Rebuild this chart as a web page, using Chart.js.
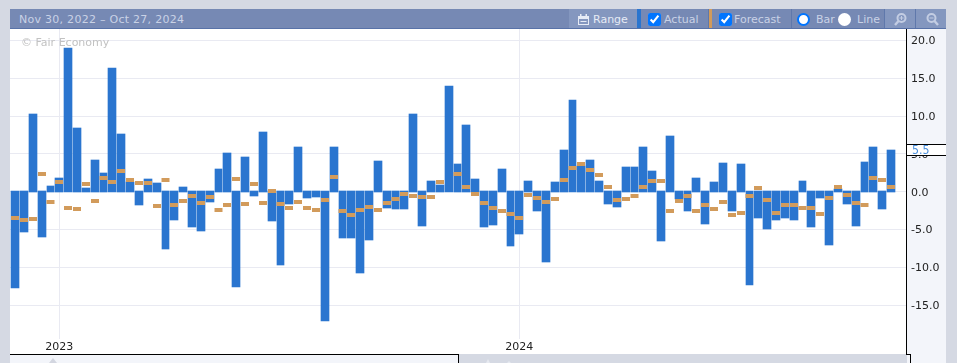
<!DOCTYPE html>
<html><head><meta charset="utf-8">
<script src="https://cdn.jsdelivr.net/npm/chart.js@4"></script>
<style>
html,body{margin:0;padding:0;width:957px;height:363px;overflow:hidden;background:#d5d9e3;font-family:"DejaVu Sans",sans-serif;}
.a{position:absolute;}
#plot{left:10px;top:29px;width:896px;height:325px;background:#fff;}
#axisbg{left:907px;top:29px;width:39px;height:334px;background:#f3f5fa;}
#navl{left:10px;top:355px;width:448px;height:8px;background:#f3f5fa;}
canvas{position:absolute;left:0;top:0;}
.k{background:#000;}
#head{left:10px;top:9px;width:936px;height:19px;background:#7689b4;border-bottom:1px solid #5872a8;}
.t{position:absolute;font-size:11px;line-height:13px;color:#c9d2e6;white-space:nowrap;top:13px;}
.btn{position:absolute;top:9px;height:19px;background:#8497bf;}
.sep{position:absolute;top:9px;height:19px;width:1px;background:#5f78ab;}
input{position:absolute;margin:0;width:13px;height:13px;top:13px;accent-color:#0075ff;}
.r{position:absolute;width:13px;height:13px;border-radius:50%;top:13px;box-sizing:border-box;background:#fff;}
#last{left:907px;top:145px;width:39px;height:10px;background:#fff;color:#4a8fdc;font-size:11px;line-height:10px;}
#last span{position:absolute;left:5px;top:0;transform:scaleY(1.18);transform-origin:50% 50%;}
#cr{left:21px;top:36px;font-size:11px;line-height:13px;color:#c2c2c2;white-space:nowrap;}
</style></head>
<body>
<div class="a" id="plot"></div>
<div class="a" id="axisbg"></div>
<div class="a" id="navl"></div>
<canvas id="c" width="957" height="363"></canvas>
<div class="a" id="cr">© Fair Economy</div>

<div class="a k" style="left:906px;top:29px;width:1px;height:326px"></div>
<div class="a k" style="left:10px;top:354px;width:448px;height:1px"></div>
<div class="a k" style="left:458px;top:354px;width:1px;height:9px"></div>
<div class="a k" style="left:906px;top:354px;width:5px;height:1px"></div>
<div class="a k" style="left:910px;top:354px;width:1px;height:9px"></div>
<div class="a" style="left:911px;top:355px;width:35px;height:8px;background:#f3f5fa"></div>
<svg class="a" style="left:49px;top:358px" width="8" height="5"><path d="M4 0L8 5H0Z" fill="#d3d6e0"/></svg>
<svg class="a" style="left:486px;top:359px" width="4" height="4"><path d="M2 0L4 4H0Z" fill="#e6e9f0"/></svg>
<svg class="a" style="left:507px;top:361px" width="4" height="2"><path d="M2 0L4 2H0Z" fill="#e6e9f0"/></svg>

<div class="a" id="last"><span id="lastT"></span></div>
<div class="a k" style="left:906px;top:144px;width:40px;height:1px"></div>
<div class="a k" style="left:906px;top:155px;width:40px;height:1px"></div>

<div class="a" id="head"></div>
<div class="t" style="left:19px;letter-spacing:0.27px">Nov 30, 2022 – Oct 27, 2024</div>
<div class="btn" style="left:569px;width:68px"></div>
<svg class="a" style="left:578px;top:14px" width="11" height="11" viewBox="0 0 11 11"><rect x="0.5" y="2.5" width="10" height="8" fill="none" stroke="#e6ebf5"/><rect x="0.5" y="2.5" width="10" height="2.5" fill="#e6ebf5"/><rect x="2" y="0" width="1.5" height="3" fill="#e6ebf5"/><rect x="7.5" y="0" width="1.5" height="3" fill="#e6ebf5"/><rect x="2.5" y="7" width="6" height="1" fill="#e6ebf5"/></svg>
<div class="t" style="left:593px;color:#e6ebf5">Range</div>
<div class="a" style="left:637px;top:9px;width:4px;height:19px;background:#2a75cf"></div>
<input type="checkbox" checked style="left:648px">
<div class="t" style="left:664px">Actual</div>
<div class="sep" style="left:708px"></div>
<div class="a" style="left:709px;top:9px;width:3px;height:19px;background:#d29b5b"></div>
<input type="checkbox" checked style="left:719px">
<div class="t" style="left:734px">Forecast</div>
<div class="sep" style="left:791px"></div>
<div class="r" style="left:797px;border:2.5px solid #0075ff"></div>
<div class="t" style="left:816px">Bar</div>
<div class="r" style="left:838px"></div>
<div class="t" style="left:857px">Line</div>
<div class="btn" style="left:884px;width:62px"></div>
<div class="sep" style="left:884px"></div>
<div class="sep" style="left:915px"></div>
<svg class="a" style="left:894px;top:13px" width="13" height="13" viewBox="0 0 13 13"><circle cx="7.5" cy="5" r="4" fill="none" stroke="#c3cde3" stroke-width="2"/><line x1="4.5" y1="8" x2="1" y2="12" stroke="#c3cde3" stroke-width="2.4"/><path d="M5.5 5h4M7.5 3v4" stroke="#c3cde3"/></svg>
<svg class="a" style="left:926px;top:13px" width="13" height="13" viewBox="0 0 13 13"><circle cx="5.5" cy="5" r="4" fill="none" stroke="#c3cde3" stroke-width="2"/><line x1="8.5" y1="8" x2="12" y2="12" stroke="#c3cde3" stroke-width="2.4"/><path d="M3.5 5h4" stroke="#c3cde3"/></svg>

<script>
const actual = [
-12.74,-5.33,10.28,-5.99,0.75,1.81,19.01,8.43,0.49,4.19,
2.47,16.36,7.63,1.28,-1.76,1.68,1.15,-7.58,-3.74,0.62,
-4.67,-5.20,-1.36,3.00,5.12,-12.60,4.59,-0.57,7.90,-3.88,
-9.69,-1.63,5.91,-0.83,-0.70,-17.10,5.91,-6.12,-6.12,-10.75,
-6.39,4.06,-2.16,-2.29,-2.29,10.28,-4.54,1.42,0.89,13.98,
3.66,8.82,1.68,-4.67,-4.40,3.00,-7.18,-5.59,1.42,-2.55,
-9.30,1.28,5.52,12.13,3.40,4.19,1.42,-1.63,-2.02,3.27,
3.27,5.91,2.74,-6.52,7.37,-0.97,-2.55,1.81,-4.27,1.28,
3.80,-2.55,3.66,-12.34,-3.48,-4.93,-3.74,-3.48,-3.74,1.42,
-4.67,-0.83,-7.05,0.36,-1.63,-4.54,3.93,5.91,-2.29,5.52];
const forecast = [
-3.48,-3.74,-3.61,2.34,-1.36,1.28,-2.16,-2.29,1.02,-1.23,
1.81,1.28,2.74,1.55,1.15,1.15,-1.89,1.55,-1.76,-1.23,
-0.57,-1.49,-0.70,-2.42,-1.76,1.68,-1.63,1.02,-1.49,0.09,
-1.63,-2.16,-1.36,-2.16,-2.42,-1.10,1.94,-2.55,-3.08,-2.42,
-2.02,-2.42,-1.49,-0.97,-0.30,-0.57,-0.70,-0.70,1.28,null,
2.34,0.62,-0.30,-1.49,-2.16,-2.55,-2.95,-3.48,-0.44,-0.83,
-1.36,-0.97,1.55,3.13,3.66,2.87,2.21,0.62,-1.10,-0.97,
-0.57,0.62,1.42,1.42,-2.55,-1.23,-0.57,-2.55,-1.76,-2.29,
-1.36,-3.08,-2.82,-0.57,0.49,-1.10,-2.82,-1.76,-1.76,-2.16,
-2.16,-2.95,-0.83,0.62,-0.44,-1.49,-1.76,1.81,1.55,0.62];
const yearTicks = [5, 57];
const yearLabels = ["2023", "2024"];
const yTicks = [20, 15, 10, 5, 0, -5, -10, -15];

document.getElementById('lastT').textContent = actual[actual.length - 1].toFixed(1);

/* Snap the library's computed geometry to whole device pixels, like the crisp original. */
const pixelSnap = {
  id: 'pixelSnap',
  afterDatasetsUpdate(chart) {
    chart.getSortedVisibleDatasetMetas().forEach(meta => {
      meta.data.forEach(el => {
        if (el.skip) return;
        const right = Math.floor(el.x + 4.49);
        const left = Math.floor(el.x - 4.358) + 1;
        el.x = (left + right) / 2;
        el.y = Math.round(el.y);
        if (meta.type === 'bar') {
          el.width = right - left;
          el.base = Math.round(el.base);
        }
      });
    });
  }
};

new Chart(document.getElementById('c'), {
  plugins: [pixelSnap],
  data: {
    datasets: [
      { type: 'line', label: 'Forecast', order: 0, showLine: false,
        data: forecast.map((v, i) => ({ x: i, y: v })),
        pointStyle: 'line', pointRadius: 4, pointHoverRadius: 4,
        pointBorderWidth: 4, pointBorderColor: '#d29b5b', pointBackgroundColor: '#d29b5b' },
      { type: 'bar', label: 'Actual', order: 1,
        data: actual.map((v, i) => ({ x: i, y: v >= 0 ? [-0.04, v] : [0.09, v] })),
        backgroundColor: '#2a75cf', borderWidth: 0, barThickness: 8 }
    ]
  },
  options: {
    responsive: false, animation: false,
    layout: { padding: { left: 10, top: 29, right: 11, bottom: 9 } },
    plugins: { legend: { display: false }, tooltip: { enabled: false } },
    scales: {
      x: {
        type: 'linear', min: -0.565, max: 100.70, offset: false,
        afterBuildTicks: s => { s.ticks = yearTicks.map(v => ({ value: v })); },
        afterFit: s => { s.height = 15; },
        grid: { color: '#e9eaf2', drawTicks: false, offset: false },
        border: { display: false },
        ticks: { autoSkip: false, maxRotation: 0, padding: 2, color: '#222',
          font: { family: '"DejaVu Sans"', size: 11 },
          callback: v => yearLabels[yearTicks.indexOf(v)] }
      },
      y: {
        position: 'right', min: -19.48, max: 21.52,
        afterBuildTicks: s => { s.ticks = yTicks.map(v => ({ value: v })); },
        afterFit: s => { s.width = 40; },
        grid: { color: '#e9eaf2', drawTicks: false },
        border: { display: false },
        ticks: { padding: 5, labelOffset: 1, color: '#222', font: { family: '"DejaVu Sans"', size: 11 },
          callback: v => v.toFixed(1) }
      }
    }
  }
});
</script>
</body></html>
